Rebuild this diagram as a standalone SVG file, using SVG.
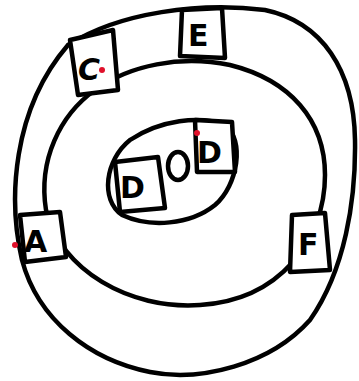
<svg xmlns="http://www.w3.org/2000/svg" width="359" height="381" viewBox="0 0 359 381">
<style>
.s{fill:none;stroke:#000;stroke-width:4.5;stroke-linecap:round;stroke-linejoin:round}
.b{fill:#fff;stroke:#000;stroke-width:4.5;stroke-linejoin:round}
.t{font-family:"DejaVu Sans",sans-serif;font-size:30px;font-weight:bold;fill:#000}
.r{fill:#e0102a}
</style>
<rect width="359" height="381" fill="#fff"/>
<g id="rings">
<path class="s" d="M68,45 C120,12 200,2 265,10 C322,22 354,70 355,140 C356,200 345,270 310,320 C270,365 200,382 150,372 C90,360 38,320 22,260 C8,200 12,110 68,45"/>
<path class="s" d="M95,90 C130,65 180,55 230,65 C290,80 325,120 325,175 C325,240 280,300 200,305 C130,310 60,270 46,210 C38,160 60,115 95,90"/>
<path class="s" d="M130,140 C160,120 200,115 225,125 C245,140 238,185 215,205 C190,225 150,228 122,215 C100,200 105,160 130,140"/>
</g>
<g id="C"><path class="b" d="M70,40 L113,30 L118,90 L78,95 Z"/><text class="t" x="78" y="80" font-style="italic">C</text><circle class="r" cx="102" cy="70" r="3"/></g>
<g id="E"><path class="b" d="M182,10 L222,8 L225,58 L180,56 Z"/><text class="t" x="188" y="46">E</text></g>
<g id="A"><path class="b" d="M20,215 L60,212 L66,257 L25,262 Z"/><text class="t" x="24" y="252">A</text><circle class="r" cx="15" cy="245" r="3"/></g>
<g id="F"><path class="b" d="M292,215 L325,213 L330,270 L290,272 Z"/><text class="t" x="298" y="255">F</text></g>
<g id="D"><path class="b" d="M115,162 L158,157 L165,208 L120,212 Z"/><text class="t" x="120" y="198">D</text></g>
<g id="o"><ellipse class="s" cx="178" cy="166" rx="10" ry="14"/></g>
<g id="d"><path class="b" d="M195,120 L232,122 L235,172 L197,172 Z"/><text class="t" x="197" y="163">D</text><circle class="r" cx="197" cy="133" r="3"/></g>
</svg>
